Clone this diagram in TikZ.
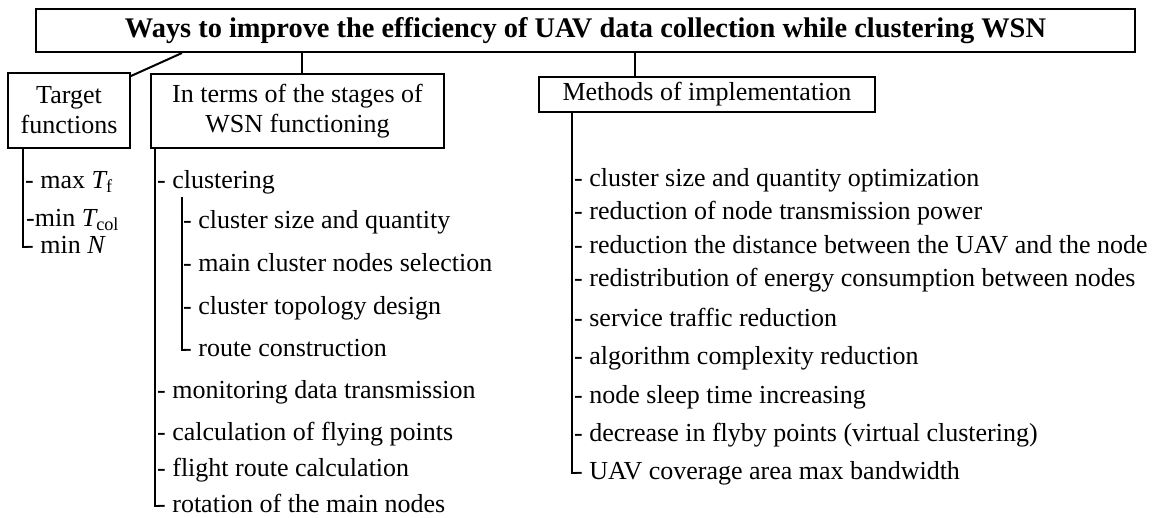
\documentclass[tikz,border=0pt]{standalone}
\usepackage{fontspec}
\setmainfont{Liberation Serif}
\begin{document}
\begin{tikzpicture}[x=1pt,y=-1pt,
  every node/.style={font=\fontsize{26}{30}\selectfont, inner sep=0pt},
  box/.style={draw, line width=2pt, align=center},
  item/.style={anchor=base west},
  conn/.style={line width=2pt}]
\useasboundingbox (0,0) rectangle (1157,517);
% boxes
\node[box, minimum width=1099pt, minimum height=43pt, font=\fontsize{28.4}{34}\selectfont\bfseries] (title) at (585.5,30.5) {Ways to improve the efficiency of UAV data collection while clustering WSN};
\node[box, minimum width=122pt, minimum height=75pt] (tgt) at (69,110.5) {Target\\functions};
\node[box, minimum width=293pt, minimum height=74pt] (terms) at (297.5,111) {In terms of the stages of\\WSN functioning};
\node[box, minimum width=336pt, minimum height=35pt] (meth) at (707,94.5) {Methods of implementation};
% connectors from the title
\draw[conn] ([xshift=147pt]title.south west) -- ([yshift=-4pt]tgt.north east);
\draw[conn] ([xshift=4.5pt]terms.north) -- ([xshift=4.5pt]terms.north |- title.south);
\draw[conn] ([xshift=-72pt]meth.north) -- ([xshift=-72pt]meth.north |- title.south);
% target functions
\node[item] (t1) at (25,188) {- max {\itshape T}\textsubscript{f}};
\node[item] (t2) at (26,226) {-min {\itshape T}\textsubscript{col}};
\node[item] (t3) at (25,253) {- min {\itshape N}};
\draw[conn] ([xshift=16pt]tgt.south west) |- ([yshift=6pt,xshift=3pt]t3.base west);
% stages
\node[item] (m1) at (157,188) {- clustering};
\node[item] (s1) at (183,228) {- cluster size and quantity};
\node[item] (s2) at (183,271) {- main cluster nodes selection};
\node[item] (s3) at (183,314) {- cluster topology design};
\node[item] (s4) at (183,356) {- route construction};
\node[item] (m2) at (157,398) {- monitoring data transmission};
\node[item] (m3) at (157,440) {- calculation of flying points};
\node[item] (m4) at (157,476) {- flight route calculation};
\node[item] (m5) at (157,512) {- rotation of the main nodes};
\draw[conn] ([xshift=5pt]terms.south west) |- ([yshift=6pt,xshift=3pt]m5.base west);
\coordinate (sc) at (182,197);
\draw[conn] (sc) |- ([yshift=6pt,xshift=3pt]s4.base west);
% methods
\node[item] (r1) at (574,186) {- cluster size and quantity optimization};
\node[item] (r2) at (574,219) {- reduction of node transmission power};
\node[item] (r3) at (574,253) {- reduction the distance between the UAV and the node};
\node[item] (r4) at (574,286) {- redistribution of energy consumption between nodes};
\node[item] (r5) at (574,326) {- service traffic reduction};
\node[item] (r6) at (574,364) {- algorithm complexity reduction};
\node[item] (r7) at (574,403) {- node sleep time increasing};
\node[item] (r8) at (574,441) {- decrease in flyby points (virtual clustering)};
\node[item] (r9) at (574,479) {- UAV coverage area max bandwidth};
\draw[conn] ([xshift=34pt]meth.south west) |- ([yshift=6pt,xshift=3pt]r9.base west);
\end{tikzpicture}
\end{document}
